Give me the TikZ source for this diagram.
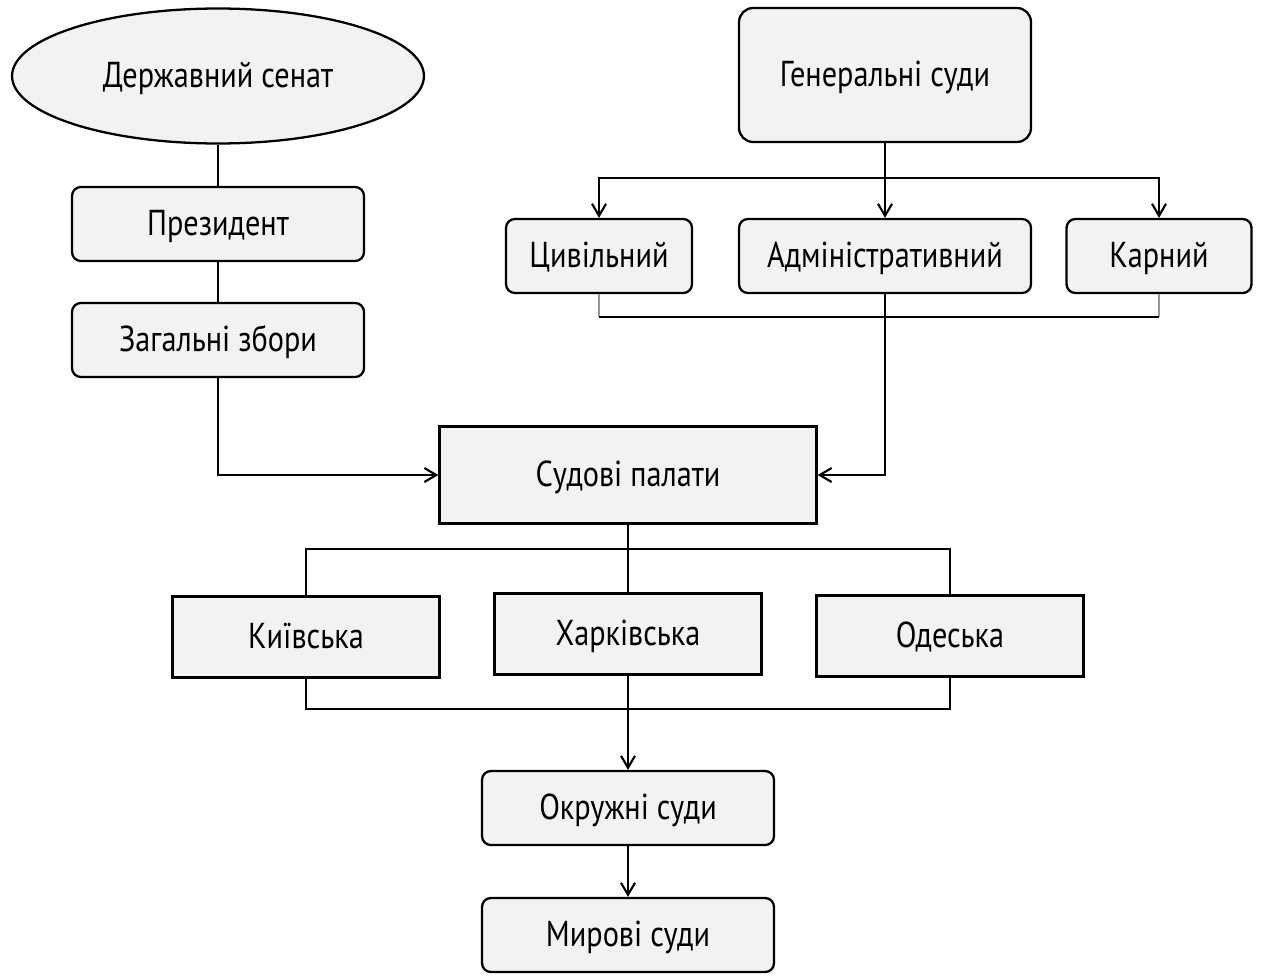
\documentclass[tikz,border=0pt]{standalone}
\usepackage{fontspec}
\setmainfont[FakeStretch=0.84]{PT Sans}
\usetikzlibrary{positioning,arrows.meta,shapes.geometric}
\definecolor{cFill}{RGB}{242,242,242}
\definecolor{cStub}{RGB}{150,150,150}
\tikzset{
  box/.style={rectangle, rounded corners=5pt, draw=black, fill=cFill,
              line width=1.3pt, minimum width=5.84cm, minimum height=1.48cm,
              text height=15pt, text depth=1.4pt,
              font=\fontsize{20.5}{24}\selectfont},
  sqbox/.style={box, sharp corners, minimum width=5.34cm, minimum height=1.62cm},
  oval/.style={ellipse, draw=black, fill=cFill, line width=1.3pt,
               minimum width=8.24cm, minimum height=2.7cm,
               text height=15pt, text depth=1.4pt,
               font=\fontsize{20.5}{24}\selectfont},
  link/.style={draw=black, line width=1.2pt},
  flow/.style={link, -{Straight Barb[length=2.4mm,width=2.8mm]}},
  stub/.style={draw=cStub, line width=1.2pt},
}

\begin{document}
\begin{tikzpicture}[x=0.02cm, y=-0.02cm]
  \useasboundingbox (0,0) rectangle (1263,977);
  % left column
  \node[oval] (sen) at (218,76) {Державний сенат};
  \node[box] (pres) at (218,224) {Президент};
  \node[box] (zag) at (218,340) {Загальні збори};
  % right column
  \node[box, minimum height=2.68cm, rounded corners=8pt] (gen) at (885,75) {Генеральні суди};
  \node[box, minimum width=3.72cm] (civ) at (599,256) {Цивільний};
  \node[box] (adm) at (885,256) {Адміністративний};
  \node[box, minimum width=3.7cm] (kar) at (1159,256) {Карний};
  % chambers
  \node[sqbox, minimum width=7.54cm, minimum height=1.94cm] (pal) at (628,475) {Судові палати};
  \node[sqbox] (kyiv) at (306,637) {Київська};
  \node[sqbox] (khar) at (628,634) {Харківська};
  \node[sqbox] (odes) at (950,636) {Одеська};
  \node[box] (okr) at (628,808) {Окружні суди};
  \node[box] (myr) at (628,935) {Мирові суди};
  % bus points
  \coordinate (gb) at (885,178);
  \coordinate (ab) at (885,317);
  \coordinate (pb) at (628,549);
  \coordinate (kb) at (628,709);

  \draw[link] (sen) -- (pres);
  \draw[link] (pres) -- (zag);
  \draw[flow] (zag) |- (pal);
  \draw[link] (gen) -- (gb);
  \draw[flow] (gb) -| (civ);
  \draw[flow] (gb) -- (adm);
  \draw[flow] (gb) -| (kar);
  \draw[stub] (civ) -- (civ.south |- ab);
  \draw[stub] (kar) -- (kar.south |- ab);
  \draw[link] (civ.south |- ab) -- (kar.south |- ab);
  \draw[flow] (adm) |- (pal);
  \draw[link] (pal) -- (khar);
  \draw[link] (kyiv) |- (pb) -| (odes);
  \draw[link] (kyiv) |- (kb) -| (odes);
  \draw[flow] (khar) -- (okr);
  \draw[flow] (okr) -- (myr);
\end{tikzpicture}
\end{document}
